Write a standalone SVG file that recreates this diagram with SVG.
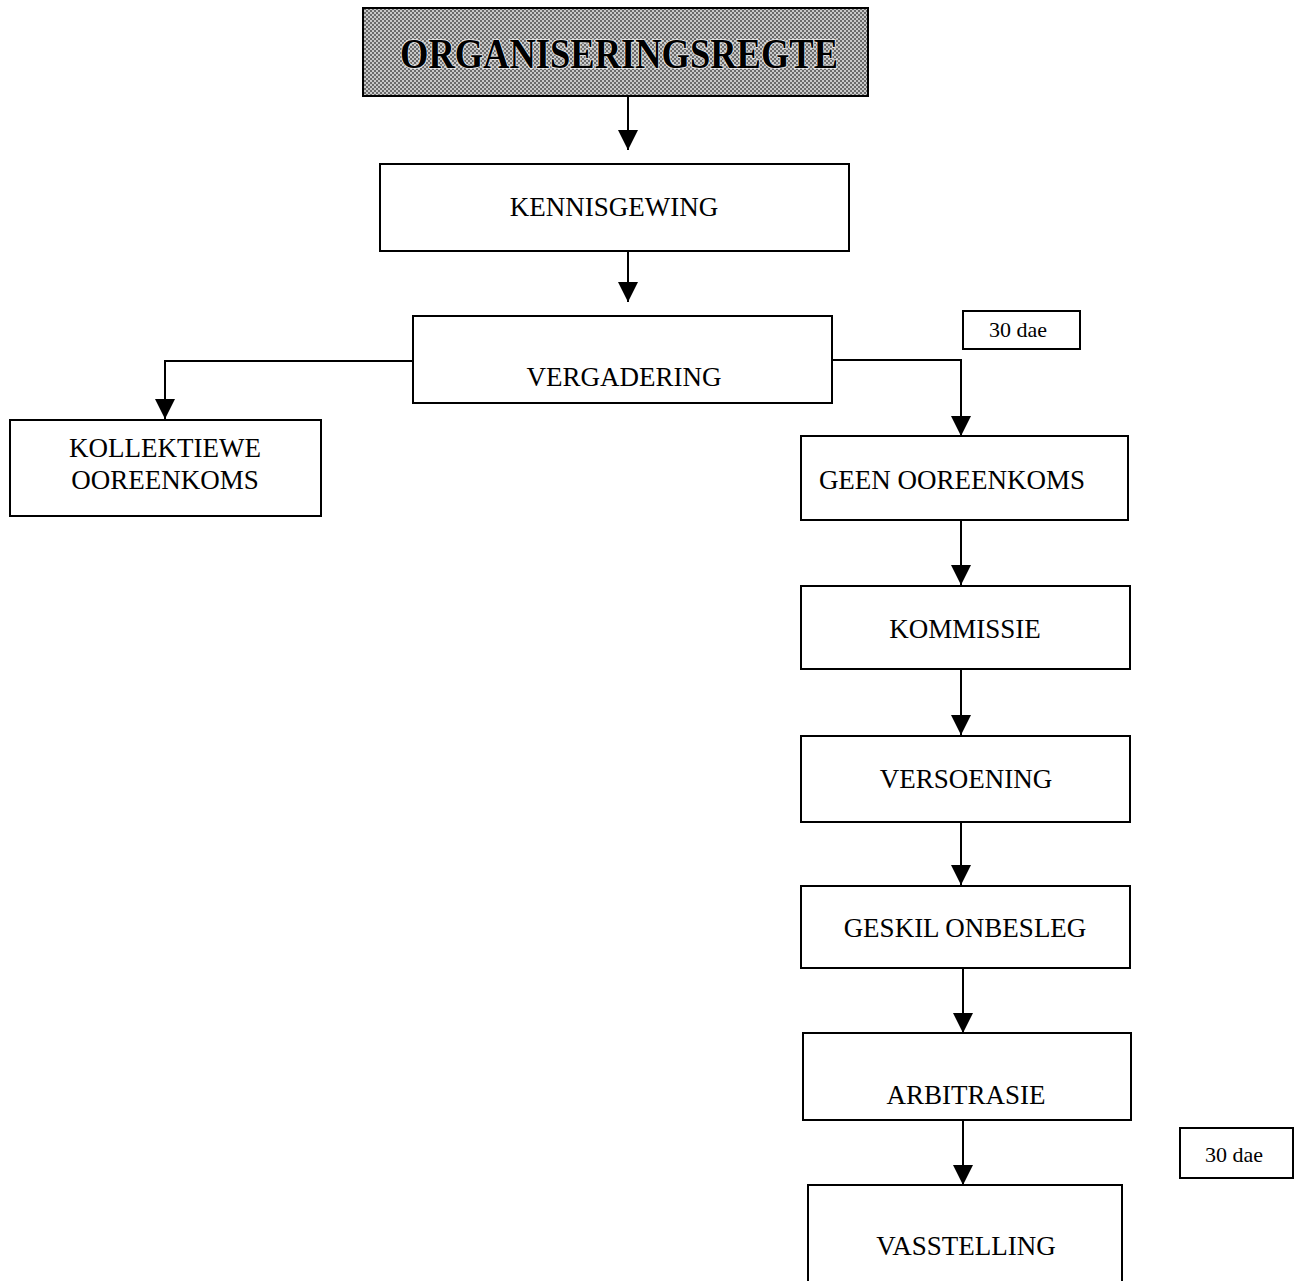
<svg xmlns="http://www.w3.org/2000/svg" width="1295" height="1281" viewBox="0 0 1295 1281">
<style>
.box{fill:#fff;stroke:#000;stroke-width:2}
.t{font-family:"Liberation Serif","Times New Roman",serif;font-size:27px;fill:#000;text-anchor:middle}
.c{fill:none;stroke:#000;stroke-width:2}
</style>
<defs>
<pattern id="dots" width="4" height="4" patternUnits="userSpaceOnUse">
<rect width="4" height="4" fill="#c8c8c8"/>
<rect x="0" y="0" width="2" height="2" fill="#6a6a6a"/>
<rect x="2" y="2" width="2" height="2" fill="#6a6a6a"/>
</pattern>
<marker id="ah" markerWidth="20" markerHeight="20" viewBox="0 0 20 20" refX="20" refY="10" orient="auto" markerUnits="userSpaceOnUse">
<path d="M0,0 L20,10 L0,20 Z" fill="#000"/>
</marker>
</defs>
<rect width="1295" height="1281" fill="#fff"/>
<g id="connectors">
<path class="c" d="M628,96 V150" marker-end="url(#ah)"/>
<path class="c" d="M628,251 V302" marker-end="url(#ah)"/>
<path class="c" d="M413,361 H165 V419" marker-end="url(#ah)"/>
<path class="c" d="M832,360 H961 V436" marker-end="url(#ah)"/>
<path class="c" d="M961,520 V585" marker-end="url(#ah)"/>
<path class="c" d="M961,669 V735" marker-end="url(#ah)"/>
<path class="c" d="M961,822 V885" marker-end="url(#ah)"/>
<path class="c" d="M963,968 V1033" marker-end="url(#ah)"/>
<path class="c" d="M963,1120 V1185" marker-end="url(#ah)"/>
</g>
<g id="title">
<rect x="363" y="8" width="505" height="88" fill="url(#dots)" stroke="#000" stroke-width="2"/>
<text x="619" y="68" font-family="'Liberation Serif','Times New Roman',serif" font-weight="bold" font-size="42" text-anchor="middle" textLength="438" lengthAdjust="spacingAndGlyphs" stroke="#fff" stroke-width="2" stroke-opacity="0.7" paint-order="stroke">ORGANISERINGSREGTE</text>
</g>
<g id="kennisgewing">
<rect class="box" x="380" y="164" width="469" height="87"/>
<text class="t" x="614" y="216">KENNISGEWING</text>
</g>
<g id="vergadering">
<rect class="box" x="413" y="316" width="419" height="87"/>
<text class="t" x="624" y="386">VERGADERING</text>
</g>
<g id="dae1">
<rect class="box" x="963" y="311" width="117" height="38"/>
<text class="t" x="1018" y="337" style="font-size:22px">30 dae</text>
</g>
<g id="kollektiewe">
<rect class="box" x="10" y="420" width="311" height="96"/>
<text class="t" x="165" y="457">KOLLEKTIEWE</text>
<text class="t" x="165" y="489">OOREENKOMS</text>
</g>
<g id="geen">
<rect class="box" x="801" y="436" width="327" height="84"/>
<text class="t" x="952" y="489">GEEN OOREENKOMS</text>
</g>
<g id="kommissie">
<rect class="box" x="801" y="586" width="329" height="83"/>
<text class="t" x="965" y="638">KOMMISSIE</text>
</g>
<g id="versoening">
<rect class="box" x="801" y="736" width="329" height="86"/>
<text class="t" x="966" y="788">VERSOENING</text>
</g>
<g id="geskil">
<rect class="box" x="801" y="886" width="329" height="82"/>
<text class="t" x="965" y="937">GESKIL ONBESLEG</text>
</g>
<g id="arbitrasie">
<rect class="box" x="803" y="1033" width="328" height="87"/>
<text class="t" x="966" y="1104">ARBITRASIE</text>
</g>
<g id="dae2">
<rect class="box" x="1180" y="1128" width="113" height="50"/>
<text class="t" x="1234" y="1162" style="font-size:22px">30 dae</text>
</g>
<g id="vasstelling">
<rect class="box" x="808" y="1185" width="314" height="110"/>
<text class="t" x="966" y="1255">VASSTELLING</text>
</g>
</svg>
